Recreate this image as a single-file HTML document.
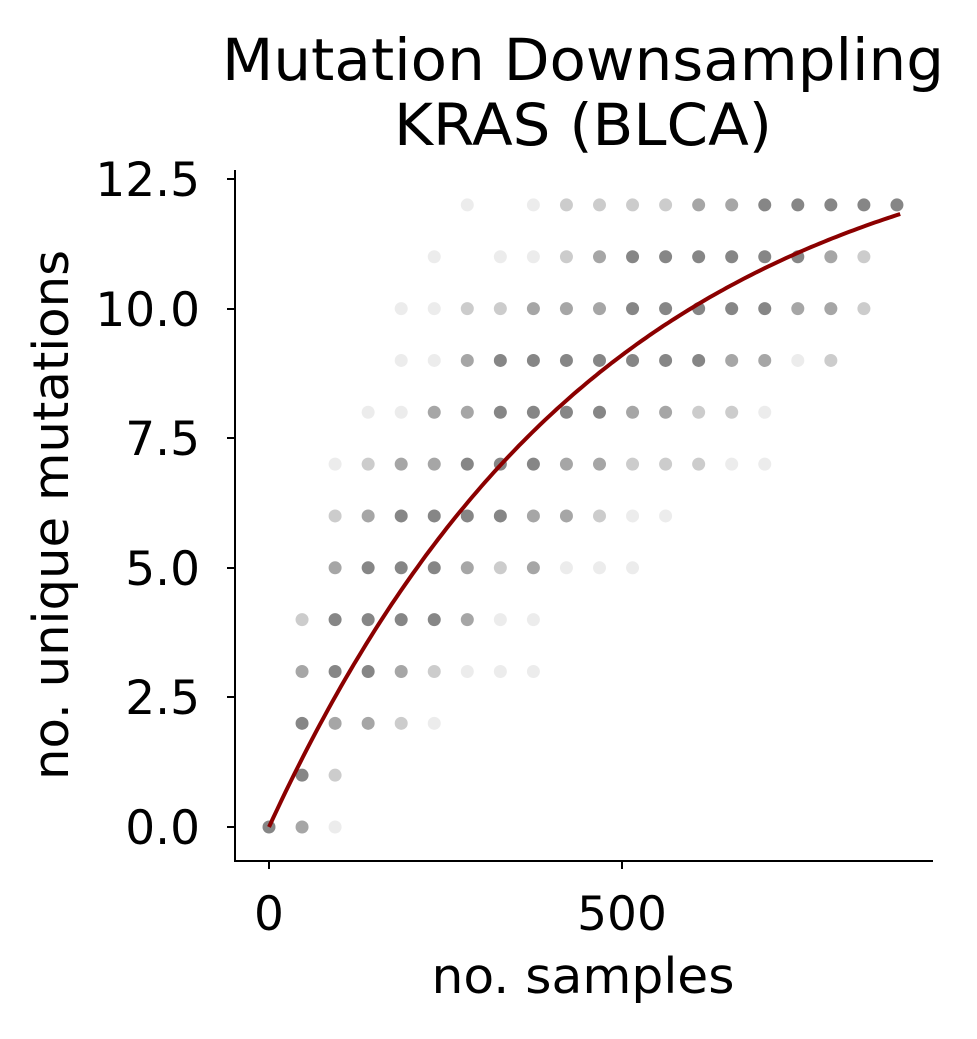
<!DOCTYPE html>
<html><head><meta charset="utf-8"><style>
body{margin:0;background:#fff}
svg text{font-family:"DejaVu Sans","Liberation Sans",sans-serif;fill:#000}
</style></head><body>
<svg id="s" width="977" height="1034" xmlns="http://www.w3.org/2000/svg">
<text x="583" y="80" font-size="58" text-anchor="middle" textLength="722" lengthAdjust="spacingAndGlyphs">Mutation Downsampling</text>
<text x="583" y="145" font-size="58" text-anchor="middle" textLength="378" lengthAdjust="spacingAndGlyphs">KRAS (BLCA)</text>
<g id="dots"></g>
<path id="curve" fill="none" stroke="#8b0000" stroke-width="4"/>
<line x1="235" y1="170" x2="235" y2="862" stroke="#000" stroke-width="2"/>
<line x1="234" y1="861" x2="933" y2="861" stroke="#000" stroke-width="2"/>
<g stroke="#000" stroke-width="2">
<line x1="227" y1="827" x2="235" y2="827"/><line x1="227" y1="697" x2="235" y2="697"/>
<line x1="227" y1="568" x2="235" y2="568"/><line x1="227" y1="438" x2="235" y2="438"/>
<line x1="227" y1="309" x2="235" y2="309"/><line x1="227" y1="179" x2="235" y2="179"/>
<line x1="269" y1="861" x2="269" y2="869"/><line x1="622" y1="861" x2="622" y2="869"/>
</g>
<g font-size="47" text-anchor="end">
<text x="200" y="844">0.0</text><text x="200" y="714">2.5</text><text x="200" y="585">5.0</text>
<text x="200" y="455">7.5</text><text x="200" y="326">10.0</text><text x="200" y="196">12.5</text>
</g>
<g font-size="47" text-anchor="middle">
<text x="269" y="930">0</text><text x="622" y="930">500</text>
</g>
<g font-size="49" text-anchor="middle">
<text x="583" y="993" textLength="303" lengthAdjust="spacingAndGlyphs">no. samples</text>
<text transform="translate(68,515) rotate(-90)" textLength="530" lengthAdjust="spacingAndGlyphs">no. unique mutations</text>
</g>
</svg>
<script>
var op={d:0.95,m:0.7,l:0.4,f:0.15};
var rows={
12:"6f 8f 9l 10l 11l 12l 13m 14m 15d 16d 17d 18d 19d",
11:"5f 7f 8f 9l 10m 11d 12d 13d 14d 15d 16d 17m 18l",
10:"4f 5f 6l 7l 8m 9m 10m 11d 12d 13d 14d 15d 16m 17m 18l",
9:"4f 5f 6m 7d 8d 9d 10d 11d 12d 13d 14m 15m 16f 17l",
8:"3f 4f 5m 6m 7d 8d 9d 10d 11m 12m 13l 14l 15f",
7:"2f 3l 4m 5m 6d 7d 8d 9m 10m 11l 12l 13l 14f 15f",
6:"2l 3m 4d 5d 6d 7d 8m 9m 10l 11f 12f",
5:"2m 3d 4d 5d 6m 7l 8m 9f 10f 11f",
4:"1l 2d 3d 4d 5d 6m 7f 8f",
3:"1m 2d 3d 4m 5l 6f 7f 8f",
2:"1d 2m 3m 4l 5f",
1:"1d 2l",
0:"0d 1m 2f"};
var g="";
for(var v in rows){rows[v].split(" ").forEach(function(t){
var i=parseInt(t),c=t.slice(-1);var x=269+33.05*i,y=827-51.84*v;
g+='<circle cx="'+x+'" cy="'+y+'" r="6.5" fill="#808080" fill-opacity="'+op[c]+'"/>';});}
document.getElementById("dots").innerHTML=g;
var p="";for(var s=0;s<=894;s+=6){var val=13.9*(1-Math.exp(-s/470));
p+=(s?"L":"M")+(269+0.706*s).toFixed(1)+","+(827-51.84*val).toFixed(1);}
document.getElementById("curve").setAttribute("d",p);
</script>
</body></html>
